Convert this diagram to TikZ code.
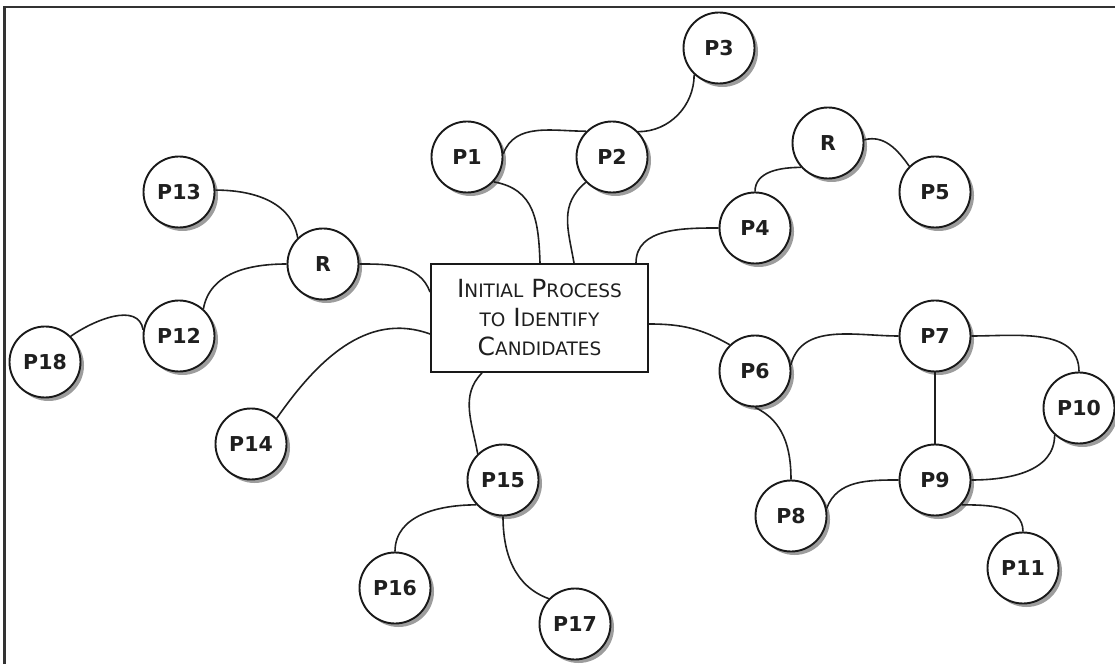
\documentclass[tikz,border=0pt]{standalone}
\usepackage{fontspec}
\setmainfont{DejaVu Sans}
\usetikzlibrary{shadows}
\newcommand\lowcap[1]{{\fontsize{18.5}{29}\selectfont #1}}
\begin{document}
\begin{tikzpicture}[x=1pt,y=1pt,
  proc/.style={circle, draw=black!90, line width=1.9pt, fill=white,
    minimum size=71pt, inner sep=0pt,
    font=\fontsize{20.5}{22}\selectfont\bfseries, text=black!88,
    drop shadow={shadow xshift=3.5pt, shadow yshift=-3.5pt, fill=black!45, opacity=0.85}},
  mainbox/.style={rectangle, draw=black!90, line width=2pt, fill=white,
    minimum width=217pt, minimum height=108pt, inner sep=0pt, align=center,
    font=\fontsize{25}{29}\selectfont, text=black!88},
  link/.style={line width=1.6pt, black!88}]
\useasboundingbox (0,0) rectangle (1115,664);
% frame
\draw[line width=2.5pt, black!80] (4.5,0) -- (4.5,657) -- (1115,657);

% central box
\node[mainbox] (box) at (539.5,346)
  {I\lowcap{NITIAL} P\lowcap{ROCESS}\\ \lowcap{TO} I\lowcap{DENTIFY}\\ C\lowcap{ANDIDATES}};

% process circles
\node[proc] (p1)  at (467,507) {P1};
\node[proc] (p2)  at (612,507) {P2};
\node[proc] (p3)  at (719,616) {P3};
\node[proc] (rt)  at (828,521) {R};
\node[proc] (p5)  at (935,472) {P5};
\node[proc] (p4)  at (755,436) {P4};
\node[proc] (rl)  at (323,400) {R};
\node[proc] (p13) at (179,472) {P13};
\node[proc] (p12) at (179,328) {P12};
\node[proc] (p18) at (45,302)  {P18};
\node[proc] (p14) at (251,220) {P14};
\node[proc] (p6)  at (755,293) {P6};
\node[proc] (p7)  at (935,328) {P7};
\node[proc] (p10) at (1079,256) {P10};
\node[proc] (p9)  at (935,184) {P9};
\node[proc] (p8)  at (791,148) {P8};
\node[proc] (p11) at (1023,96) {P11};
\node[proc] (p15) at (503,184) {P15};
\node[proc] (p16) at (395,76)  {P16};
\node[proc] (p17) at (575,40)  {P17};

% connectors
\draw[link] (p1.5) to[out=70,in=180] (p2.135);
\draw[link] (p1.-43) to[out=-10,in=92,looseness=1.15] ([xshift=110pt]box.north west);
\draw[link] (p2.224) to[out=220,in=100,looseness=1.1] ([xshift=144pt]box.north west);
\draw[link] (p2.44) to[out=0,in=270] (p3.227);
\draw[link] ([xshift=206pt]box.north west) to[out=90,in=180] (p4.180);
\draw[link] (p4.90) to[out=90,in=180] (rt.222);
\draw[link] (rt.5) to[out=15,in=125] (p5.135);
\draw[link] ([yshift=-29pt]box.north west) to[out=110,in=0] (rl.0);
\draw[link] (rl.134) to[out=100,in=0] (p13.3);
\draw[link] (rl.180) to[out=180,in=80] (p12.48);
\draw[link] (p12.170) to[out=100,in=35] (p18.45);
\draw[link] ([yshift=-71pt]box.north west) to[out=160,in=55] (p14.45);
\draw[link] ([xshift=52pt]box.south west) to[out=225,in=100] (p15.134);
\draw[link] (p15.223) to[out=180,in=90] (p16.90);
\draw[link] (p15.270) to[out=270,in=160] (p17.136);
\draw[link] ([yshift=-61pt]box.north east) to[out=0,in=150] (p6.134);
\draw[link] (p6.10) to[out=75,in=180] (p7.180);
\draw[link] (p7.0) to[out=0,in=90] (p10.90);
\draw[link] (p7.270) -- (p9.90);
\draw[link] (p9.0) to[out=0,in=270] (p10.228);
\draw[link] (p6.270) to[out=-25,in=90] (p8.90);
\draw[link] (p8.12) to[out=70,in=180] (p9.180);
\draw[link] (p9.-43) to[out=0,in=90] (p11.90);
\end{tikzpicture}
\end{document}
